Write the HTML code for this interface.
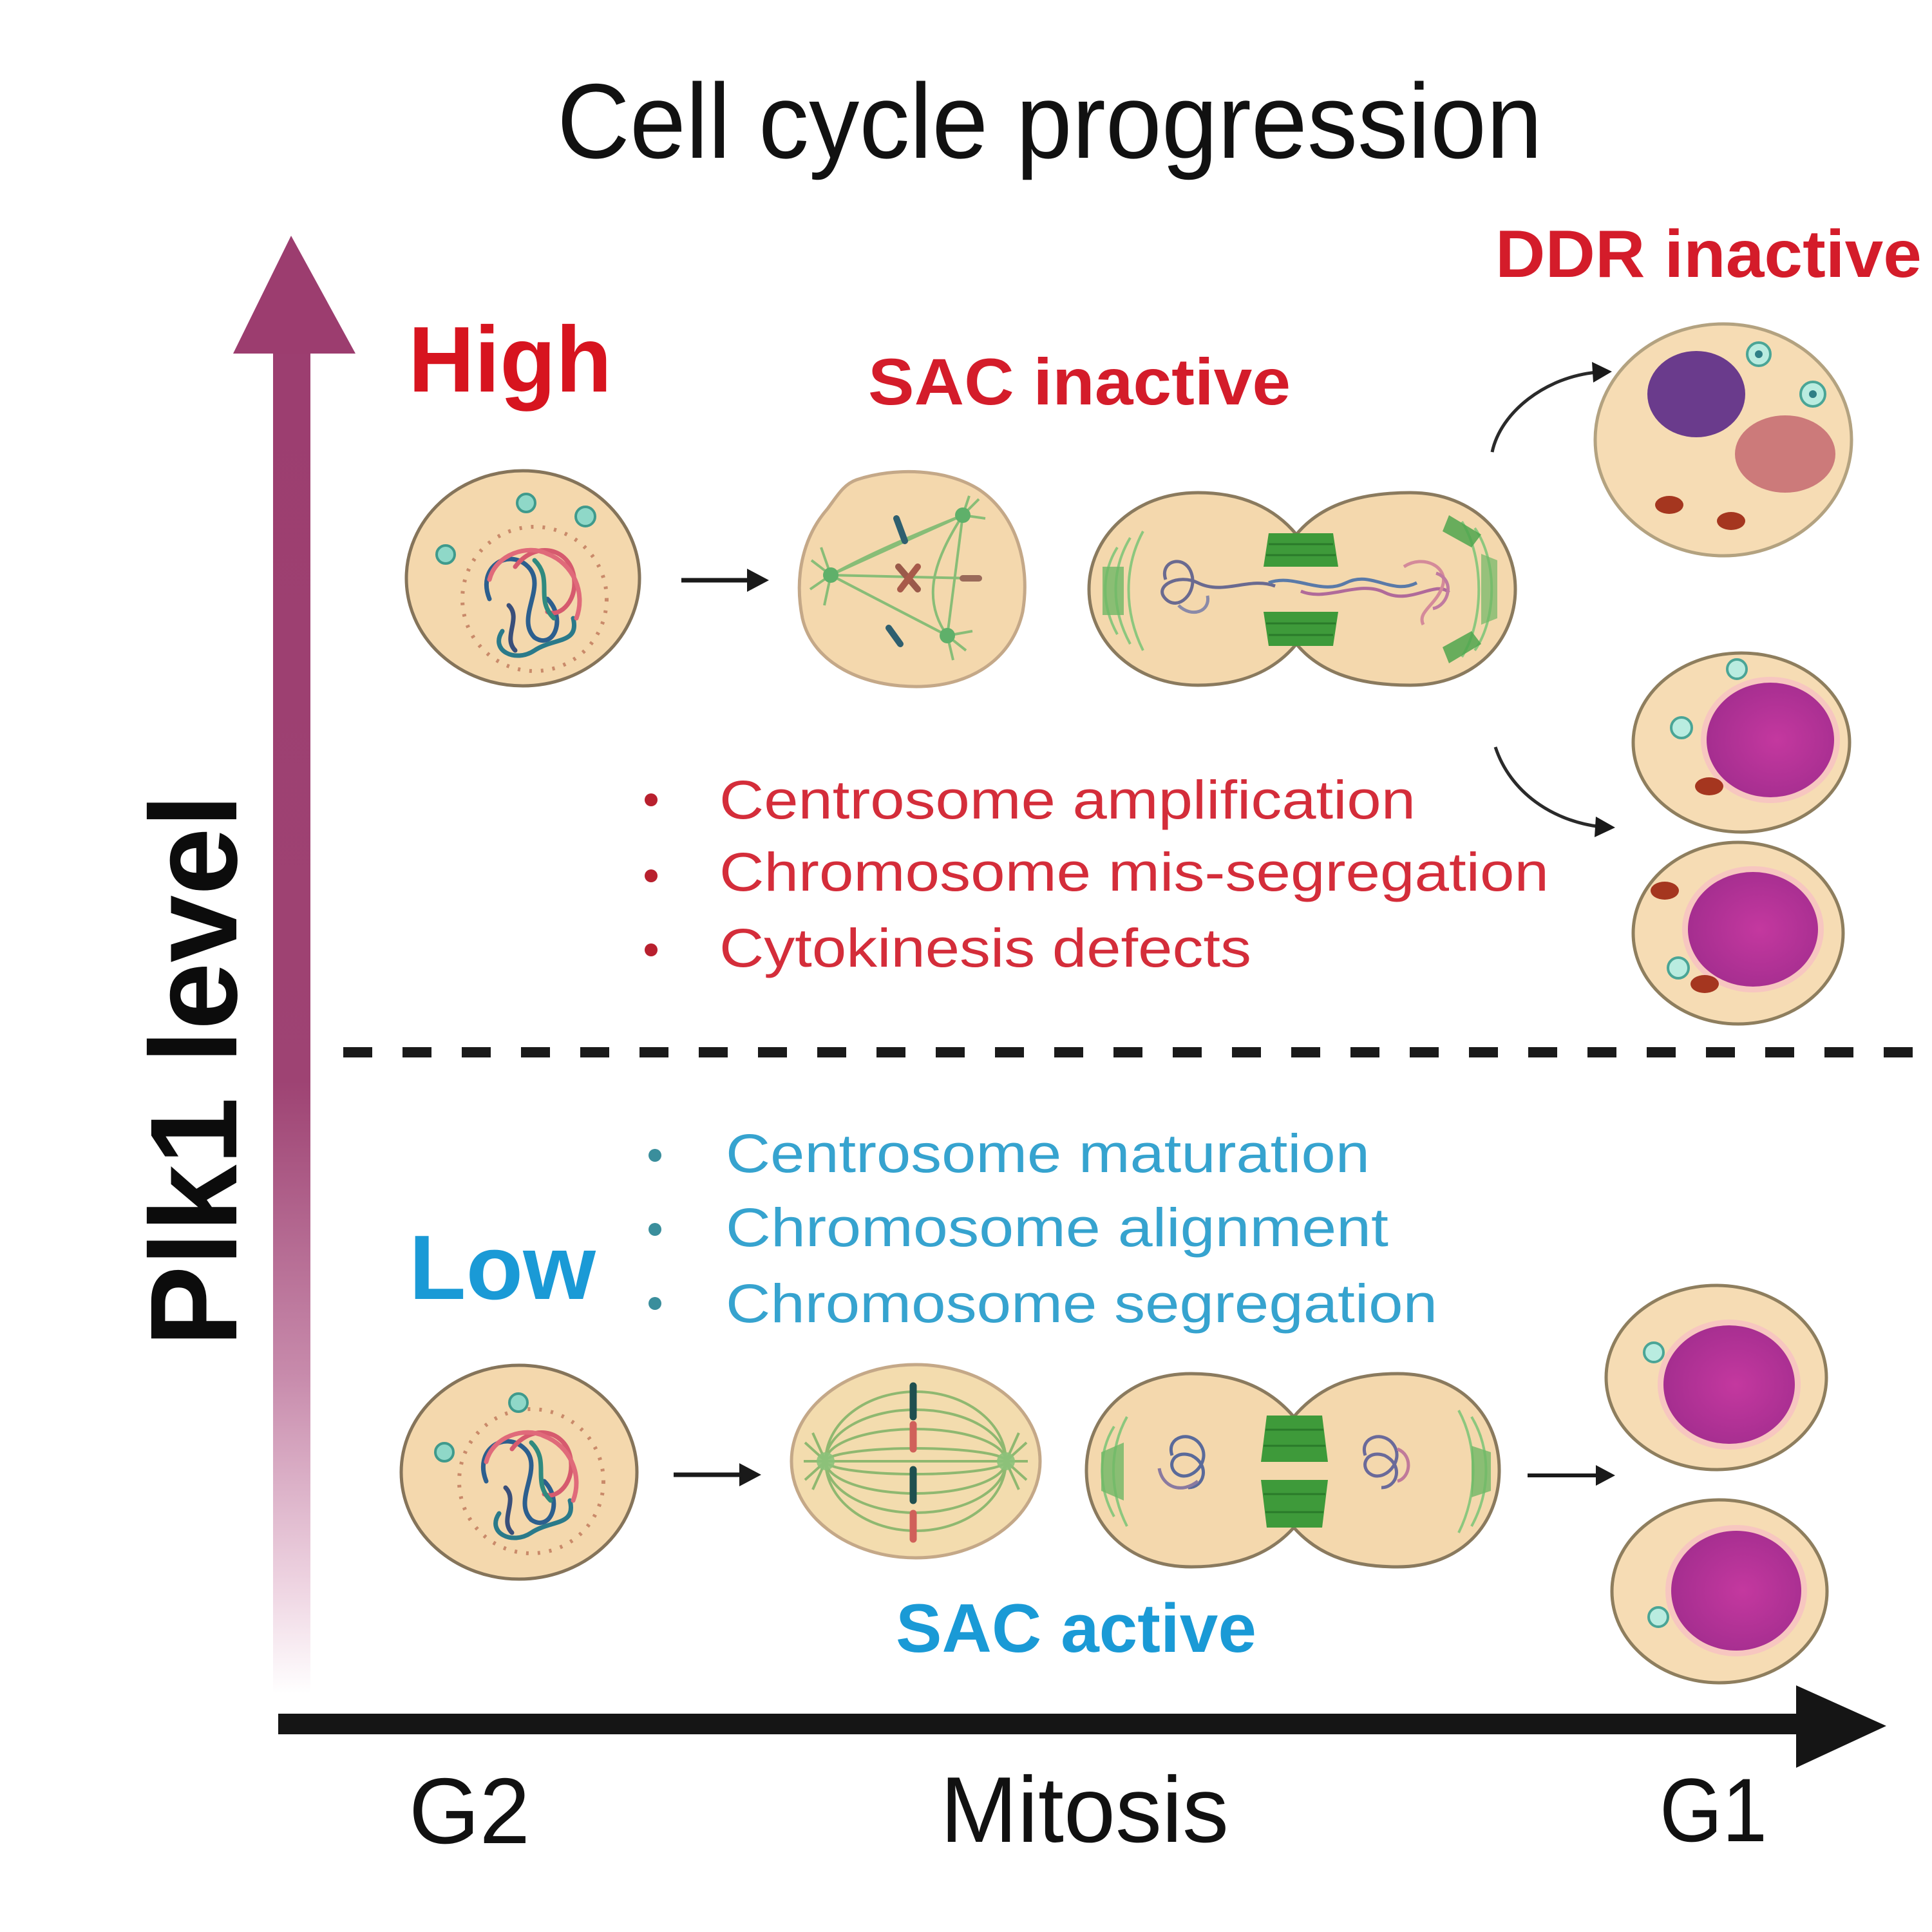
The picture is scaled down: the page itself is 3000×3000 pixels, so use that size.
<!DOCTYPE html>
<html>
<head>
<meta charset="utf-8">
<style>
  html,body{margin:0;padding:0;background:#ffffff;}
  svg{display:block;}
  text{font-family:"Liberation Sans", Arial, sans-serif;}
</style>
</head>
<body>
<svg width="3000" height="3000" viewBox="0 0 3000 3000" xmlns="http://www.w3.org/2000/svg">
  <defs>
    <linearGradient id="vgrad" x1="0" y1="366" x2="0" y2="2630" gradientUnits="userSpaceOnUse">
      <stop offset="0" stop-color="#9c3d6f"/>
      <stop offset="0.58" stop-color="#9e4373"/>
      <stop offset="0.78" stop-color="#c78aab"/>
      <stop offset="0.93" stop-color="#efd6e3"/>
      <stop offset="1" stop-color="#ffffff"/>
    </linearGradient>
    <radialGradient id="nuc" cx="0.55" cy="0.5" r="0.6">
      <stop offset="0" stop-color="#c4389f"/>
      <stop offset="1" stop-color="#a22d8e"/>
    </radialGradient>
    <marker id="ah" markerWidth="8" markerHeight="8" refX="6" refY="4" orient="auto" markerUnits="strokeWidth">
      <path d="M0,0 L8,4 L0,8 Z" fill="#222"/>
    </marker>
  </defs>

  <rect width="3000" height="3000" fill="#ffffff"/>

  <!-- Title -->
  <text x="865" y="245" font-size="165" fill="#111" textLength="1530" lengthAdjust="spacingAndGlyphs">Cell cycle progression</text>

  <!-- Vertical Plk1 arrow -->
  <rect x="424" y="545" width="58" height="2085" fill="url(#vgrad)"/>
  <polygon points="362,549 452,366 552,549" fill="#9c3d6f"/>

  <!-- Plk1 level -->
  <text transform="translate(367,2091) rotate(-90)" font-size="192" font-weight="bold" fill="#0c0c0c" textLength="858" lengthAdjust="spacingAndGlyphs">Plk1 level</text>

  <!-- High / Low -->
  <text x="634" y="608" font-size="145" font-weight="bold" fill="#d7141f" textLength="316" lengthAdjust="spacingAndGlyphs">High</text>
  <text x="635" y="2017" font-size="142" font-weight="bold" fill="#1a9ad6" textLength="290" lengthAdjust="spacingAndGlyphs">Low</text>

  <!-- SAC / DDR labels -->
  <text x="1348" y="628" font-size="102" font-weight="bold" fill="#d41c2a" textLength="656" lengthAdjust="spacingAndGlyphs">SAC inactive</text>
  <text x="2322" y="430" font-size="104" font-weight="bold" fill="#d41c2a" textLength="662" lengthAdjust="spacingAndGlyphs">DDR inactive</text>
  <text x="1391" y="2565" font-size="107" font-weight="bold" fill="#1a9ad6" textLength="560" lengthAdjust="spacingAndGlyphs">SAC active</text>

  <!-- Red bullets -->
  <g fill="#b8202e">
    <circle cx="1011" cy="1242" r="10"/>
    <circle cx="1011" cy="1360" r="10"/>
    <circle cx="1011" cy="1475" r="10"/>
  </g>
  <g font-size="84" fill="#d42d3a">
    <text x="1117" y="1271" textLength="1081" lengthAdjust="spacingAndGlyphs">Centrosome amplification</text>
    <text x="1117" y="1383" textLength="1288" lengthAdjust="spacingAndGlyphs">Chromosome mis-segregation</text>
    <text x="1117" y="1501" textLength="826" lengthAdjust="spacingAndGlyphs">Cytokinesis defects</text>
  </g>

  <!-- Dashed divider -->
  <line x1="533" y1="1634" x2="3000" y2="1634" stroke="#1a1a1a" stroke-width="16" stroke-dasharray="45 47"/>

  <!-- Blue bullets -->
  <g fill="#3a8e9c">
    <circle cx="1017" cy="1794" r="10"/>
    <circle cx="1017" cy="1909" r="10"/>
    <circle cx="1017" cy="2024" r="10"/>
  </g>
  <g font-size="84" fill="#36a3cf">
    <text x="1127" y="1820" textLength="1000" lengthAdjust="spacingAndGlyphs">Centrosome maturation</text>
    <text x="1127" y="1935" textLength="1029" lengthAdjust="spacingAndGlyphs">Chromosome alignment</text>
    <text x="1127" y="2053" textLength="1105" lengthAdjust="spacingAndGlyphs">Chromosome segregation</text>
  </g>

  <!-- X axis -->
  <rect x="432" y="2661" width="2370" height="32" fill="#151515"/>
  <polygon points="2789,2617 2929,2680 2789,2745" fill="#151515"/>
  <text x="635" y="2862" font-size="145" fill="#111" textLength="188" lengthAdjust="spacingAndGlyphs">G2</text>
  <text x="1460" y="2860" font-size="145" fill="#111" textLength="448" lengthAdjust="spacingAndGlyphs">Mitosis</text>
  <text x="2577" y="2859" font-size="140" fill="#111" textLength="167" lengthAdjust="spacingAndGlyphs">G1</text>

  <!-- ============ TOP ROW ============ -->
  <!-- G2 cell top -->
  <g>
    <ellipse cx="812" cy="898" rx="181" ry="167" fill="#f4d8ad" stroke="#85745a" stroke-width="5"/>
    <circle cx="830" cy="930" r="112" fill="none" stroke="#c98a6a" stroke-width="6" stroke-dasharray="4 14"/>
    <g fill="none" stroke-width="7" stroke-linecap="round">
      <path d="M760,930 C740,880 790,850 820,880 C850,910 800,960 830,990 C860,1010 880,960 850,930" stroke="#2c5f8e"/>
      <path d="M780,980 C760,1010 800,1030 830,1010 C860,990 900,1000 890,960" stroke="#2a7a8a"/>
      <path d="M800,880 C830,840 880,850 890,890 C900,930 870,960 850,950" stroke="#d65a6e"/>
      <path d="M760,900 C770,860 820,845 850,860 C890,875 910,920 895,960" stroke="#e06a7a"/>
      <path d="M790,940 C810,960 780,990 800,1010" stroke="#3a4f7a"/>
      <path d="M830,870 C860,900 830,930 860,960" stroke="#2f8a7f"/>
    </g>
    <g fill="#8fd8c8" stroke="#3f9a8c" stroke-width="4">
      <circle cx="817" cy="781" r="14"/>
      <circle cx="909" cy="802" r="15"/>
      <circle cx="692" cy="861" r="14"/>
    </g>
  </g>

  <!-- small arrow top -->
  <line x1="1058" y1="901" x2="1168" y2="901" stroke="#1a1a1a" stroke-width="7"/>
  <polygon points="1160,883 1194,901 1160,919" fill="#1a1a1a"/>

  <!-- Prometaphase irregular cell -->
  <g>
    <path d="M1330,745 C1390,725 1470,728 1520,760 C1580,800 1600,880 1588,950 C1572,1022 1510,1064 1430,1066 C1340,1068 1262,1030 1246,960 C1232,890 1250,830 1285,790 C1300,770 1310,752 1330,745 Z" fill="#f4d8ad" stroke="#c4a888" stroke-width="5"/>
    <g stroke="#7dbb72" stroke-width="4" fill="none" opacity="0.9">
      <path d="M1290,893 L1495,800"/><path d="M1290,893 L1471,987"/><path d="M1495,800 L1471,987"/>
      <path d="M1290,893 C1350,860 1420,830 1495,800"/>
      <path d="M1290,893 C1360,930 1420,960 1471,987"/>
      <path d="M1290,893 L1508,898"/>
      <path d="M1495,800 C1450,870 1430,930 1471,987"/>
      <path d="M1290,893 L1260,870 M1290,893 L1258,915 M1290,893 L1275,850 M1290,893 L1280,940"/>
      <path d="M1495,800 L1520,775 M1495,800 L1530,805 M1495,800 L1505,770"/>
      <path d="M1471,987 L1500,1010 M1471,987 L1480,1025 M1471,987 L1510,980"/>
    </g>
    <circle cx="1290" cy="893" r="12" fill="#5fb06a"/>
    <circle cx="1495" cy="800" r="12" fill="#5fb06a"/>
    <circle cx="1471" cy="987" r="12" fill="#5fb06a"/>
    <g stroke-width="10" stroke-linecap="round">
      <line x1="1392" y1="805" x2="1405" y2="840" stroke="#2f5f6f"/>
      <line x1="1395" y1="880" x2="1425" y2="915" stroke="#9a5a4a"/>
      <line x1="1425" y1="880" x2="1398" y2="915" stroke="#a85a4a"/>
      <line x1="1495" y1="898" x2="1520" y2="898" stroke="#9a6a5a"/>
      <line x1="1380" y1="975" x2="1398" y2="1000" stroke="#2f5f6f"/>
    </g>
  </g>

  <!-- Dividing cell top -->
  <g>
    <path d="M2013,830 C1980,790 1930,765 1860,765 C1760,765 1691,835 1691,915 C1691,995 1760,1064 1860,1064 C1930,1064 1980,1040 2013,1000 C2046,1040 2100,1064 2190,1064 C2290,1064 2353,995 2353,915 C2353,835 2290,765 2190,765 C2100,765 2046,790 2013,830 Z" fill="#f4d8ad" stroke="#8a7a5e" stroke-width="5"/>
    <g stroke="#8cc77e" stroke-width="4" fill="none">
      <path d="M1735,850 C1710,890 1710,940 1735,985"/>
      <path d="M1755,835 C1725,885 1725,945 1755,1000"/>
      <path d="M1775,825 C1745,880 1745,950 1775,1010"/>
      <path d="M2290,820 C2325,870 2325,960 2290,1010"/>
      <path d="M2270,810 C2305,865 2305,965 2270,1020"/>
    </g>
    <path d="M1712,880 L1745,880 L1745,955 L1712,955 Z" fill="#6fb865" opacity="0.8"/>
    <path d="M2250,800 L2300,830 L2285,850 L2240,825 Z" fill="#4fa64e" opacity="0.85"/>
    <path d="M2250,1030 L2300,1000 L2285,980 L2240,1005 Z" fill="#4fa64e" opacity="0.85"/>
    <path d="M2300,860 L2325,870 L2325,960 L2300,970 Z" fill="#6fb865" opacity="0.7"/>
    <!-- midbody -->
    <g fill="#3e9a3a">
      <path d="M1970,828 L2070,828 L2078,880 L1962,880 Z"/>
      <path d="M1962,950 L2078,950 L2070,1003 L1970,1003 Z"/>
    </g>
    <g stroke="#2a7a2a" stroke-width="3">
      <line x1="1970" y1="845" x2="2070" y2="845"/><line x1="1966" y1="862" x2="2074" y2="862"/>
      <line x1="1966" y1="968" x2="2074" y2="968"/><line x1="1970" y1="986" x2="2070" y2="986"/>
    </g>
    <!-- chromatin band -->
    <g fill="none" stroke-width="5">
      <path d="M1810,900 C1800,870 1840,860 1850,890 C1860,920 1830,950 1810,930 C1790,910 1830,890 1860,905 C1900,925 1940,895 1980,910" stroke="#6a6a90"/>
      <path d="M1830,940 C1850,960 1880,950 1875,925" stroke="#8a8aa8"/>
      <path d="M1970,905 C2010,890 2050,925 2090,905 C2130,885 2160,925 2200,905" stroke="#5a7aa8"/>
      <path d="M2020,918 C2060,935 2110,900 2150,920 C2190,940 2230,900 2250,920" stroke="#b06a9a"/>
      <path d="M2180,880 C2210,860 2250,880 2240,910 C2230,940 2200,950 2210,970" stroke="#d48a9a"/>
      <path d="M2230,890 C2260,900 2250,940 2225,945" stroke="#c07aa0"/>
    </g>
  </g>

  <!-- Curved arrows top right -->
  <path d="M2317,702 C2330,640 2400,585 2480,578" fill="none" stroke="#2a2a2a" stroke-width="5"/>
  <polygon points="2472,562 2503,577 2474,594" fill="#1a1a1a"/>
  <path d="M2322,1160 C2345,1230 2410,1275 2486,1284" fill="none" stroke="#2a2a2a" stroke-width="5"/>
  <polygon points="2478,1268 2508,1285 2476,1300" fill="#1a1a1a"/>

  <!-- DDR cell -->
  <g>
    <ellipse cx="2676" cy="683" rx="199" ry="180" fill="#f6dcb4" stroke="#b3a280" stroke-width="5"/>
    <ellipse cx="2634" cy="612" rx="76" ry="67" fill="#6a3b8c"/>
    <ellipse cx="2772" cy="705" rx="78" ry="60" fill="#cc7a7a"/>
    <ellipse cx="2592" cy="784" rx="22" ry="14" fill="#a5361f"/>
    <ellipse cx="2688" cy="809" rx="22" ry="14" fill="#a5361f"/>
    <g fill="#b9ece0" stroke="#4aa596" stroke-width="4">
      <circle cx="2731" cy="550" r="18"/>
      <circle cx="2815" cy="612" r="19"/>
    </g>
    <circle cx="2731" cy="550" r="6" fill="#2f7f86"/>
    <circle cx="2815" cy="612" r="6" fill="#2f7f86"/>
  </g>

  <!-- Two daughter cells (abnormal) -->
  <g>
    <ellipse cx="2704" cy="1153" rx="168" ry="139" fill="#f6dcb4" stroke="#8e7e5e" stroke-width="5"/>
    <ellipse cx="2749" cy="1149" rx="108" ry="98" fill="#f7c6c0"/>
    <ellipse cx="2749" cy="1149" rx="99" ry="89" fill="url(#nuc)"/>
    <ellipse cx="2654" cy="1221" rx="22" ry="14" fill="#a5361f"/>
    <g fill="#b9ece0" stroke="#4aa596" stroke-width="4">
      <circle cx="2611" cy="1130" r="16"/>
      <circle cx="2697" cy="1039" r="15"/>
    </g>
  </g>
  <g>
    <ellipse cx="2699" cy="1449" rx="163" ry="141" fill="#f6dcb4" stroke="#8e7e5e" stroke-width="5"/>
    <ellipse cx="2722" cy="1443" rx="110" ry="98" fill="#f7c6c0"/>
    <ellipse cx="2722" cy="1443" rx="101" ry="89" fill="url(#nuc)"/>
    <ellipse cx="2585" cy="1383" rx="22" ry="14" fill="#a5361f"/>
    <ellipse cx="2647" cy="1528" rx="22" ry="14" fill="#a5361f"/>
    <circle cx="2606" cy="1503" r="16" fill="#b9ece0" stroke="#4aa596" stroke-width="4"/>
  </g>

  <!-- ============ BOTTOM ROW ============ -->
  <!-- G2 cell bottom -->
  <g>
    <ellipse cx="806" cy="2286" rx="183" ry="166" fill="#f4d8ad" stroke="#85745a" stroke-width="5"/>
    <circle cx="825" cy="2300" r="112" fill="none" stroke="#c98a6a" stroke-width="6" stroke-dasharray="4 14"/>
    <g fill="none" stroke-width="7" stroke-linecap="round">
      <path d="M755,2300 C735,2250 785,2220 815,2250 C845,2280 795,2330 825,2360 C855,2380 875,2330 845,2300" stroke="#2c5f8e"/>
      <path d="M775,2350 C755,2380 795,2400 825,2380 C855,2360 895,2370 885,2330" stroke="#2a7a8a"/>
      <path d="M795,2250 C825,2210 875,2220 885,2260 C895,2300 865,2330 845,2320" stroke="#d65a6e"/>
      <path d="M755,2270 C765,2230 815,2215 845,2230 C885,2245 905,2290 890,2330" stroke="#e06a7a"/>
      <path d="M785,2310 C805,2330 775,2360 795,2380" stroke="#3a4f7a"/>
      <path d="M825,2240 C855,2270 825,2300 855,2330" stroke="#2f8a7f"/>
    </g>
    <g fill="#8fd8c8" stroke="#3f9a8c" stroke-width="4">
      <circle cx="805" cy="2178" r="14"/>
      <circle cx="690" cy="2255" r="14"/>
    </g>
  </g>

  <!-- small arrow bottom -->
  <line x1="1046" y1="2290" x2="1156" y2="2290" stroke="#1a1a1a" stroke-width="7"/>
  <polygon points="1148,2272 1182,2290 1148,2308" fill="#1a1a1a"/>

  <!-- Metaphase cell -->
  <g>
    <ellipse cx="1422" cy="2269" rx="193" ry="150" fill="#f3dcae" stroke="#c4a888" stroke-width="5"/>
    <g fill="none" stroke="#8fb870" stroke-width="4">
      <ellipse cx="1422" cy="2269" rx="140" ry="20"/>
      <ellipse cx="1422" cy="2269" rx="140" ry="50"/>
      <ellipse cx="1422" cy="2269" rx="140" ry="80"/>
      <ellipse cx="1422" cy="2269" rx="140" ry="108"/>
      <line x1="1282" y1="2269" x2="1562" y2="2269"/>
      <path d="M1282,2269 L1250,2240 M1282,2269 L1248,2269 M1282,2269 L1250,2298 M1282,2269 L1262,2225 M1282,2269 L1262,2313"/>
      <path d="M1562,2269 L1594,2240 M1562,2269 L1596,2269 M1562,2269 L1594,2298 M1562,2269 L1582,2225 M1562,2269 L1582,2313"/>
    </g>
    <circle cx="1282" cy="2269" r="14" fill="#8cc27a" opacity="0.9"/>
    <circle cx="1562" cy="2269" r="14" fill="#8cc27a" opacity="0.9"/>
    <g stroke-width="11" stroke-linecap="round">
      <line x1="1418" y1="2152" x2="1418" y2="2200" stroke="#1f4f4f"/>
      <line x1="1418" y1="2212" x2="1418" y2="2250" stroke="#d0605a"/>
      <line x1="1418" y1="2282" x2="1418" y2="2330" stroke="#1f4f4f"/>
      <line x1="1418" y1="2350" x2="1418" y2="2390" stroke="#d0605a"/>
    </g>
  </g>

  <!-- Dividing cell bottom -->
  <g>
    <path d="M2009,2200 C1975,2160 1925,2133 1850,2133 C1750,2133 1687,2200 1687,2283 C1687,2366 1750,2433 1850,2433 C1925,2433 1975,2410 2009,2372 C2043,2410 2090,2433 2170,2433 C2270,2433 2328,2366 2328,2283 C2328,2200 2270,2133 2170,2133 C2090,2133 2043,2160 2009,2200 Z" fill="#f4d8ad" stroke="#8a7a5e" stroke-width="5"/>
    <g stroke="#8cc77e" stroke-width="4" fill="none">
      <path d="M1730,2215 C1705,2255 1705,2310 1730,2355"/>
      <path d="M1750,2200 C1722,2250 1722,2315 1750,2370"/>
      <path d="M2285,2200 C2315,2250 2315,2315 2285,2370"/>
      <path d="M2265,2190 C2295,2245 2295,2320 2265,2380"/>
    </g>
    <path d="M1710,2255 L1745,2240 L1745,2330 L1710,2315 Z" fill="#6fb865" opacity="0.8"/>
    <path d="M2285,2245 L2315,2255 L2315,2315 L2285,2325 Z" fill="#6fb865" opacity="0.8"/>
    <g fill="#3e9a3a">
      <path d="M1967,2198 L2053,2198 L2062,2270 L1958,2270 Z"/>
      <path d="M1958,2298 L2062,2298 L2053,2372 L1967,2372 Z"/>
    </g>
    <g stroke="#2a7a2a" stroke-width="3">
      <line x1="1965" y1="2220" x2="2055" y2="2220"/><line x1="1962" y1="2245" x2="2058" y2="2245"/>
      <line x1="1962" y1="2320" x2="2058" y2="2320"/><line x1="1965" y1="2348" x2="2055" y2="2348"/>
    </g>
    <g fill="none" stroke-width="5">
      <path d="M1820,2260 C1810,2230 1850,2220 1865,2245 C1880,2270 1850,2300 1830,2290 C1810,2280 1820,2250 1850,2260 C1880,2275 1870,2310 1845,2310" stroke="#5a6a9a"/>
      <path d="M1800,2280 C1805,2310 1835,2320 1860,2300" stroke="#8a7aa0"/>
      <path d="M2120,2260 C2110,2230 2150,2220 2165,2245 C2180,2270 2150,2300 2130,2290 C2110,2280 2120,2250 2150,2260 C2180,2275 2170,2310 2145,2310" stroke="#6a6a9a"/>
      <path d="M2170,2250 C2195,2260 2190,2295 2170,2300" stroke="#c07a9a"/>
    </g>
  </g>

  <!-- small arrow bottom right -->
  <line x1="2372" y1="2291" x2="2484" y2="2291" stroke="#1a1a1a" stroke-width="6"/>
  <polygon points="2478,2275 2508,2291 2478,2307" fill="#1a1a1a"/>

  <!-- Normal daughter cells -->
  <g>
    <ellipse cx="2665" cy="2139" rx="171" ry="143" fill="#f6dcb4" stroke="#8e7e5e" stroke-width="5"/>
    <ellipse cx="2685" cy="2150" rx="111" ry="101" fill="#f7c6c0"/>
    <ellipse cx="2685" cy="2150" rx="102" ry="92" fill="url(#nuc)"/>
    <circle cx="2568" cy="2100" r="15" fill="#b9ece0" stroke="#4aa596" stroke-width="4"/>
  </g>
  <g>
    <ellipse cx="2670" cy="2471" rx="167" ry="142" fill="#f6dcb4" stroke="#8e7e5e" stroke-width="5"/>
    <ellipse cx="2696" cy="2470" rx="110" ry="102" fill="#f7c6c0"/>
    <ellipse cx="2696" cy="2470" rx="101" ry="93" fill="url(#nuc)"/>
    <circle cx="2575" cy="2511" r="15" fill="#b9ece0" stroke="#4aa596" stroke-width="4"/>
  </g>
</svg>
</body>
</html>
